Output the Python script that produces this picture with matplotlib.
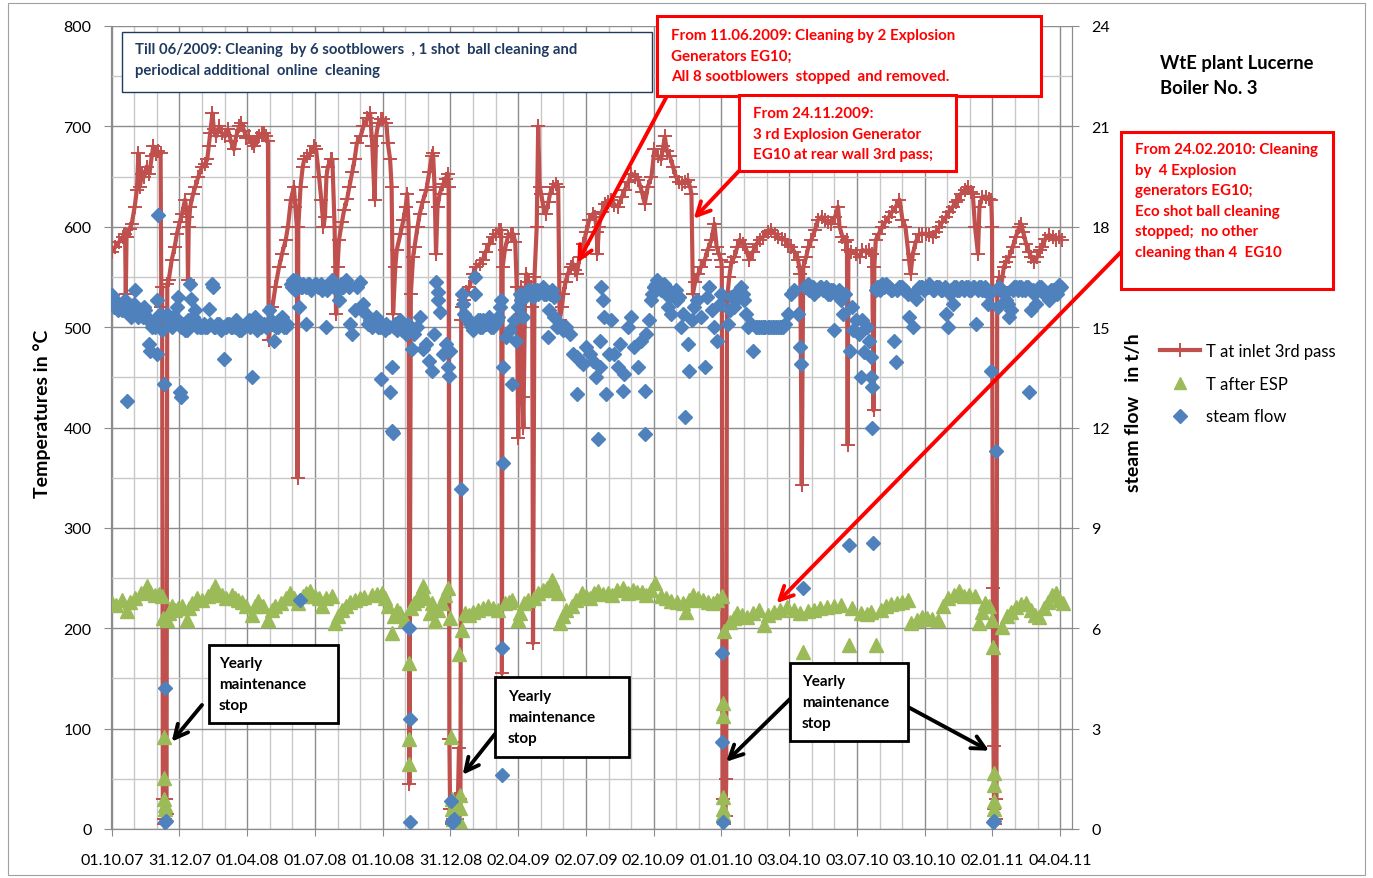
import matplotlib.pyplot as plt
from matplotlib.lines import Line2D
from matplotlib.patches import Rectangle
from matplotlib.ticker import FixedLocator, MultipleLocator
import numpy as np

W, H = 1373, 879

# x positions are days counted from 01.10.2007
x_tick_labels = ["01.10.07", "31.12.07", "01.04.08", "01.07.08", "01.10.08",
                 "31.12.08", "02.04.09", "02.07.09", "02.10.09", "01.01.10",
                 "03.04.10", "03.07.10", "03.10.10", "02.01.11", "04.04.11"]
x_tick_step = 91.5

# T at inlet 3rd pass (deg C)
inlet_pts = [
    (0, 575), (5, 580), (10, 585), (15, 590), (18, 593), (19, 533), (20, 590),
    (24, 598), (27, 603), (31, 620), (34, 637), (36, 673), (38, 640), (41, 653),
    (44, 650), (47, 660), (51, 653), (54, 670), (56, 680), (60, 672), (63, 675),
    (66, 673), (67, 520), (68, 540), (69, 30), (70, 10), (71, 5), (72, 10),
    (73, 30), (74, 15), (75, 543), (77, 547), (81, 567), (85, 580), (88, 593),
    (92, 605), (95, 613), (99, 627), (102, 610), (103, 547), (104, 600),
    (106, 620), (110, 633), (113, 640), (117, 650), (122, 660), (126, 663),
    (129, 667), (131, 680), (133, 693), (136, 713), (138, 697), (141, 690),
    (145, 700), (149, 693), (153, 690), (157, 697), (161, 685), (165, 677),
    (168, 690), (172, 700), (175, 703), (179, 695), (182, 688), (185, 690),
    (189, 683), (192, 680), (196, 688), (199, 690), (203, 693), (206, 693),
    (209, 690), (211, 685), (212, 487), (214, 500), (217, 520), (221, 540),
    (226, 560), (230, 573), (235, 587), (238, 600), (242, 627), (246, 640),
    (248, 620), (250, 600), (251, 350), (252, 600), (255, 640), (258, 660),
    (260, 667), (264, 670), (268, 673), (273, 680), (276, 677), (280, 650),
    (283, 627), (286, 600), (288, 610), (290, 650), (292, 660), (296, 667),
    (298, 667), (301, 600), (303, 513), (305, 560), (307, 587), (311, 605),
    (314, 617), (318, 628), (321, 640), (325, 655), (328, 667), (331, 683),
    (336, 690), (340, 700), (345, 708), (349, 713), (352, 680), (355, 627),
    (357, 690), (360, 703), (364, 707), (367, 707), (371, 703), (373, 683),
    (376, 667), (378, 640), (380, 513), (383, 560), (385, 577), (390, 593),
    (394, 607), (397, 620), (399, 633), (401, 600), (402, 45), (404, 533),
    (407, 570), (409, 580), (413, 600), (416, 613), (420, 625), (425, 637),
    (429, 655), (432, 670), (434, 673), (436, 640), (438, 573), (440, 620),
    (443, 633), (448, 643), (451, 648), (454, 653), (455, 640), (456, 90),
    (457, 20), (459, 5), (461, 10), (463, 30), (465, 15), (467, 10), (469, 81),
    (470, 30), (471, 14), (472, 507), (473, 520), (476, 527), (479, 535),
    (483, 540), (488, 553), (492, 560), (497, 563), (501, 567), (505, 575),
    (510, 583), (515, 590), (519, 593), (523, 597), (526, 597), (527, 155),
    (528, 560), (531, 577), (535, 590), (539, 593), (542, 593), (545, 585),
    (547, 540), (549, 390), (551, 500), (553, 540), (555, 430), (556, 400),
    (558, 520), (560, 553), (563, 545), (566, 540), (568, 520), (569, 185),
    (571, 550), (574, 600), (576, 700), (578, 640), (580, 633), (583, 620),
    (586, 613), (590, 625), (592, 633), (596, 640), (600, 643), (603, 640),
    (605, 507), (608, 520), (610, 533), (613, 545), (616, 553), (620, 560),
    (623, 563), (626, 557), (628, 553), (632, 570), (637, 583), (641, 595),
    (645, 607), (650, 613), (653, 610), (655, 595), (656, 573), (658, 600),
    (662, 615), (666, 623), (670, 625), (675, 627), (679, 622), (684, 620),
    (689, 630), (693, 637), (698, 645), (702, 653), (707, 650), (711, 647),
    (716, 635), (720, 623), (724, 640), (729, 650), (733, 677), (738, 670),
    (742, 667), (745, 680), (747, 690), (750, 675), (754, 670), (758, 660),
    (762, 650), (766, 645), (770, 643), (774, 645), (778, 647), (781, 640),
    (783, 633), (785, 533), (788, 545), (792, 553), (796, 560), (801, 567),
    (805, 577), (810, 587), (814, 603), (817, 580), (820, 573), (823, 567),
    (824, 560), (825, 30), (827, 5), (829, 13), (830, 50), (831, 527),
    (834, 550), (837, 565), (841, 570), (845, 580), (848, 587), (852, 583),
    (856, 580), (861, 567), (866, 575), (871, 583), (875, 587), (880, 590),
    (886, 595), (891, 597), (896, 593), (900, 590), (905, 588), (909, 587),
    (914, 582), (918, 580), (922, 575), (927, 567), (930, 553), (932, 343),
    (934, 560), (938, 570), (941, 580), (945, 587), (950, 597), (954, 607),
    (959, 610), (963, 607), (968, 605), (972, 603), (977, 610), (981, 620),
    (983, 600), (987, 590), (990, 585), (993, 587), (994, 383), (995, 577),
    (999, 575), (1005, 573), (1010, 570), (1014, 577), (1019, 575),
    (1023, 577), (1027, 573), (1029, 417), (1030, 560), (1032, 587),
    (1036, 593), (1041, 600), (1045, 605), (1050, 610), (1054, 615),
    (1059, 620), (1064, 627), (1068, 607), (1072, 600), (1077, 567),
    (1079, 553), (1082, 573), (1086, 585), (1091, 593), (1095, 593),
    (1100, 593), (1104, 592), (1109, 590), (1113, 595), (1118, 600),
    (1122, 605), (1127, 610), (1131, 615), (1136, 620), (1140, 625),
    (1143, 627), (1147, 633), (1152, 637), (1156, 640), (1160, 635),
    (1163, 633), (1166, 600), (1170, 573), (1172, 620), (1176, 630),
    (1181, 630), (1185, 628), (1188, 627), (1189, 600), (1190, 240),
    (1191, 83), (1192, 20), (1193, 5), (1194, 10), (1195, 30), (1196, 540),
    (1199, 550), (1201, 540), (1205, 560), (1208, 565), (1212, 570),
    (1217, 580), (1221, 590), (1226, 600), (1228, 603), (1231, 595),
    (1235, 583), (1239, 575), (1242, 570), (1246, 565), (1250, 570),
    (1254, 577), (1257, 580), (1261, 588), (1266, 592), (1271, 590),
    (1275, 587), (1280, 590), (1283, 587),
]

# T after ESP (deg C)
esp_pts = [
    (0, 225), (6, 223), (13.5, 228), (20, 217), (25, 226), (31.5, 230), (40, 235),
    (47, 242), (52, 236), (58.5, 233), (64, 234), (67.5, 232), (69, 210),
    (70, 92), (70.5, 51), (71, 30), (71.5, 24), (72, 20), (74, 208), (77, 215),
    (81, 222), (86, 218), (90, 220), (95, 222), (101, 208), (104, 220),
    (108, 225), (115, 230), (122, 228), (130, 232), (135, 236), (139.5, 242),
    (144, 235), (148.5, 233), (155, 230), (162, 233), (167, 230), (171, 228),
    (176, 226), (182, 222), (189, 213), (193, 222), (198, 227), (204, 222),
    (211.5, 208), (216, 218), (220.5, 222), (228, 225), (235, 230), (241, 235),
    (246, 230), (252, 225), (258, 232), (263, 235), (268, 237), (274, 232),
    (280, 230), (283.5, 222), (290, 230), (297, 232), (301.5, 205), (305, 212),
    (310.5, 218), (316, 222), (322, 226), (328.5, 228), (335, 230), (341, 231),
    (351, 233), (358, 234), (364.5, 235), (369, 230), (373.5, 222), (378, 195),
    (381, 212), (384.75, 218), (390, 215), (396, 208), (402, 165), (402, 90),
    (402, 65), (404, 220), (408, 225), (412, 228), (417, 235), (421, 242),
    (425, 230), (430, 215), (433, 225), (436.5, 207), (441, 218), (445.5, 225),
    (450, 233), (454.5, 240), (457, 210), (458, 92), (459, 30), (460, 20),
    (461, 10), (462, 25), (469, 174), (470, 34), (471, 21), (471.5, 5),
    (473, 198), (477, 215), (483, 213), (488, 216), (495, 218), (501, 220),
    (508.5, 222), (515, 220), (522, 218), (531, 225), (536, 226), (540, 228),
    (549, 208), (552, 215), (557, 225), (562.5, 228), (570, 230), (576, 235),
    (582, 238), (588, 240), (594, 248), (598, 238), (603, 235), (605, 205),
    (609, 212), (614, 218), (621, 222), (627, 228), (634.5, 235), (640, 232),
    (646, 230), (652, 235), (657, 237), (663, 234), (670, 235), (676, 233),
    (683, 238), (690, 240), (697, 235), (704, 238), (710, 236), (716, 236),
    (722, 233), (728, 238), (734, 245), (742, 232), (749, 230), (756, 227),
    (763, 226), (771.5, 225), (776, 216), (780, 228), (785, 233), (792, 230),
    (799, 228), (806, 226), (812, 225), (818, 228), (824, 232), (825, 126),
    (825.5, 113), (826, 32), (826, 20), (826, 15), (827, 197), (835, 206),
    (840, 210), (844, 215), (851, 213), (858, 211), (866, 215), (874, 218),
    (880.5, 203), (887, 213), (894, 216), (903, 218), (912, 221), (921, 218),
    (930, 215), (934, 176), (940, 217), (948.6, 218), (957, 220), (966, 221),
    (975, 222), (985, 223), (996, 183), (1000, 220), (1012, 215), (1020, 214),
    (1026, 216), (1032.6, 183), (1039, 218), (1046, 222), (1053, 224),
    (1060, 225), (1068, 226), (1076, 228), (1080, 205), (1087, 208),
    (1094, 211), (1101, 210), (1108, 209), (1116.6, 208), (1123, 222),
    (1130, 230), (1137, 233), (1144, 237), (1151, 232), (1158, 233),
    (1166.5, 232), (1171, 205), (1175, 216), (1180, 225), (1185, 222),
    (1189, 208), (1190, 181.5), (1191, 56), (1191.5, 44), (1192, 28),
    (1192, 20), (1203, 201), (1209, 212), (1215, 216), (1221, 221),
    (1228, 224), (1234.6, 225), (1241, 218), (1247, 213), (1253, 211),
    (1259, 220), (1265, 226), (1270, 233), (1275, 235), (1280, 228),
    (1284.6, 225),
]

# steam flow (t/h): scattered readings
steam_pts = [
    (0, 15.96), (2, 15.8), (4.5, 15.7), (8, 15.6), (11, 15.6), (14, 15.5),
    (18, 15.8), (21, 12.8), (25, 15.4), (28, 15.6), (31.6, 16.1), (36, 15.3),
    (40, 15.4), (43, 15.6), (47, 15.3), (50, 14.5), (52, 14.3), (54, 15.0),
    (58, 15.2), (61, 14.2), (61.5, 15.8), (63, 18.35), (65.5, 15.4), (68, 14.9),
    (70, 13.3), (72, 4.2), (72.5, 0.2), (73, 0.25), (74.6, 15.4), (78, 15.2),
    (81, 15.0), (85, 15.3), (88, 15.6), (90, 15.9), (92.7, 13.05), (93.5, 12.9),
    (96, 15.1), (99.4, 14.9), (103, 15.2), (106, 16.3), (107, 15.85), (110, 15.3),
    (113, 15.5), (117, 15.1), (122, 15.0), (126, 15.0), (131, 15.55),
    (135.6, 16.3), (136.5, 16.2), (140, 15.0), (145, 15.1), (151, 14.05),
    (153.7, 15.0), (158, 15.1), (163, 15.0), (168, 15.2), (172, 14.9),
    (176, 15.0), (181, 15.1), (185, 15.2), (190, 13.5), (194, 15.3), (199, 15.0),
    (203, 15.1), (208, 15.0), (212, 15.5), (215, 15.2), (219, 14.6), (222, 15.0),
    (226, 15.2), (230, 15.3), (233, 15.0), (237, 15.1), (242, 16.3), (245, 16.4),
    (249, 16.4), (253, 15.6), (254, 6.85), (257, 16.2), (262, 15.1), (265, 16.3),
    (267, 16.3), (272, 16.2), (276, 16.3), (280, 16.2), (284, 16.1), (289, 15.0),
    (293, 16.2), (298, 16.4), (302, 16.3), (307, 15.8), (311, 16.2), (316, 16.4),
    (320, 16.2), (322, 15.1), (325, 14.8), (328, 15.5), (331, 16.2),
    (335, 16.35), (338, 15.5), (340, 15.7), (344, 15.4), (349, 15.2),
    (353, 15.1), (357, 15.3), (362, 15.0), (364, 13.45), (367, 15.0),
    (371, 15.1), (376, 13.05), (378, 13.8), (379, 11.9), (379.5, 11.85),
    (381, 15.0), (385, 14.9), (389, 15.2), (394, 15.1), (398, 14.8), (402, 6.0),
    (402.5, 3.3), (403, 0.2), (405, 14.35), (408, 14.8), (412, 15.0),
    (416, 15.3), (421, 14.35), (425, 14.5), (429, 14.0), (432, 13.7),
    (435, 14.8), (438.6, 16.35), (440, 16.05), (441, 15.8), (443, 15.45),
    (448, 14.2), (451, 14.5), (454, 13.8), (455, 13.55), (456.6, 14.3),
    (458, 0.83), (459, 0.2), (460, 0.25), (461, 0.2), (462, 0.3), (472, 10.15),
    (472.5, 16.0), (474, 15.7), (479, 15.3), (484, 15.1), (488, 14.9),
    (490, 16.5), (491, 16.0), (495, 15.2), (498, 15.0), (502, 15.2), (506, 15.1),
    (510, 15.3), (515, 15.0), (520, 15.2), (524, 15.6), (526, 15.8), (527, 5.4),
    (527.5, 1.6), (528, 10.95), (529, 13.8), (533, 14.7), (538, 14.9),
    (540, 13.3), (543, 15.2), (546, 14.6), (549, 15.6), (551, 16.0), (556, 15.3),
    (558, 15.9), (560, 16.0), (564, 16.1), (569, 15.9), (574, 16.1), (578, 16.1),
    (582, 16.2), (587, 16.0), (589, 14.7), (590, 15.5), (592, 16.0), (597, 15.3),
    (601, 15.0), (605, 15.1), (610, 14.9), (614, 15.0), (619, 14.8), (623, 14.2),
    (628, 13.0), (628.5, 14.1), (633, 14.0), (637, 13.9), (641, 14.4),
    (646, 14.2), (650, 14.0), (654, 13.5), (657, 11.65), (659, 14.6),
    (660, 13.8), (661, 16.2), (663, 15.8), (665, 15.3), (668, 13.0), (671, 14.2),
    (675, 15.2), (679, 14.2), (684, 13.8), (687, 14.5), (690, 13.1), (692, 13.6),
    (697, 15.0), (702, 15.3), (706, 14.4), (711, 13.8), (715, 14.6), (720, 13.1),
    (720.5, 11.8), (722, 14.8), (726, 15.2), (730, 16.0), (733, 16.2),
    (737, 16.4), (742, 16.1), (746, 16.3), (751, 15.6), (755, 15.4), (760, 16.0),
    (764, 15.8), (769, 15.0), (772, 15.4), (774, 12.3), (778, 14.5), (780, 13.7),
    (784, 15.2), (787, 15.6), (791, 15.8), (796, 15.3), (801, 13.8), (804, 15.9),
    (807, 16.2), (811, 15.5), (814, 15.0), (818, 14.6), (821, 15.7), (823, 16.0),
    (824, 5.25), (824.5, 2.6), (825, 0.2), (832, 15.1), (835, 15.5), (837, 15.9),
    (841, 15.6), (845, 15.9), (850, 16.2), (854, 15.8), (859, 15.0), (863, 15.1),
    (866, 14.3), (870, 15.0), (874, 15.0), (877, 15.0), (881, 15.0), (886, 15.0),
    (891, 15.0), (895, 15.0), (900, 15.0), (904, 15.0), (909, 15.1), (913, 15.4),
    (918, 16.0), (922, 16.1), (927, 15.4), (929, 14.4), (931, 13.9), (934, 7.2),
    (936, 16.2), (940, 16.3), (945, 16.2), (949, 16.0), (954, 16.1), (958, 16.2),
    (963, 16.1), (967, 16.0), (972, 16.1), (976, 14.9), (980, 16.0), (985, 15.8),
    (988, 15.4), (991, 16.0), (996, 8.5), (997, 14.3), (1000, 15.6),
    (1001, 14.9), (1005, 15.2), (1009, 14.8), (1012, 13.5), (1014, 15.2),
    (1016, 14.25), (1020, 15.0), (1023, 14.6), (1025, 14.1), (1026, 13.5),
    (1027, 12.0), (1027.5, 13.2), (1028, 8.55), (1032, 16.1), (1036, 16.2),
    (1041, 16.3), (1046, 16.3), (1050, 16.2), (1054, 16.1), (1057, 14.6),
    (1059, 13.95), (1063, 16.2), (1068, 16.2), (1072, 16.1), (1077, 15.3),
    (1082, 15.0), (1086, 15.85), (1091, 16.2), (1095, 16.2), (1100, 16.2),
    (1104, 16.3), (1109, 16.1), (1113, 16.2), (1118, 16.2), (1122, 16.1),
    (1127, 15.4), (1129, 15.0), (1132, 16.0), (1136, 15.7), (1140, 16.2),
    (1145, 16.1), (1149, 16.2), (1154, 16.2), (1158, 16.1), (1163, 16.2),
    (1167, 15.1), (1172, 16.2), (1176, 16.1), (1180, 16.2), (1183, 15.7),
    (1185, 16.0), (1188, 13.7), (1190, 0.2), (1191, 0.25), (1194.5, 11.3),
    (1197, 15.6), (1199, 16.2), (1203, 16.1), (1208, 15.8), (1212, 15.3),
    (1214, 15.5), (1217, 16.1), (1221, 16.2), (1226, 16.2), (1230, 16.1),
    (1235, 16.2), (1239.5, 13.05), (1242, 15.5), (1245, 16.0), (1248, 15.7),
    (1253, 16.2), (1257, 16.1), (1262, 16.0), (1266, 15.8), (1271, 16.1),
    (1275, 16.1), (1280, 16.25),
]

# steam flow (t/h): readings inside the dense band
steam_band_pts = [
    (1, 15.9), (3, 15.6), (6, 15.75), (9, 15.5), (12, 15.7), (16, 15.5),
    (20, 15.6), (23, 15.5), (26, 15.3), (30, 15.7), (33, 15.4), (38, 15.5),
    (42, 15.3), (45, 15.5), (49, 15.2), (56, 15.1), (59, 15.0), (76, 15.2),
    (80, 15.1), (83, 15.3), (87, 15.2), (94, 15.0), (98, 15.1), (101, 14.9),
    (105, 15.0), (109, 15.1), (112, 15.2), (115, 15.0), (119, 15.0),
    (124, 15.1), (128, 15.0), (133, 15.1), (138, 15.0), (142, 15.1),
    (147, 14.9), (149, 15.0), (156, 15.1), (161, 15.0), (166, 15.0),
    (170, 15.1), (174, 14.9), (178, 15.0), (183, 15.1), (187, 15.0),
    (192, 15.1), (196, 14.9), (201, 15.0), (206, 15.1), (210, 15.0),
    (217, 15.1), (224, 15.0), (228, 15.1), (235, 15.0), (243, 16.2),
    (247, 16.1), (251, 16.3), (255, 16.2), (259, 16.3), (263, 16.2),
    (269, 16.1), (274, 16.3), (278, 16.2), (282, 16.3), (286, 16.2),
    (291, 16.1), (295, 16.3), (300, 16.2), (304, 16.1), (309, 16.3),
    (313, 16.2), (318, 16.3), (346, 15.1), (351, 15.0), (355, 15.2),
    (360, 15.0), (365, 15.1), (369, 14.9), (374, 15.0), (383, 15.1),
    (387, 15.0), (392, 14.9), (396, 15.0), (400, 15.1), (476, 15.4),
    (481, 15.2), (486, 15.0), (493, 15.1), (497, 15.2), (500, 15.0),
    (504, 15.1), (508, 15.2), (512, 15.0), (517, 15.1), (522, 15.3),
    (553, 15.8), (562, 16.1), (566, 16.0), (571, 16.1), (576, 16.0),
    (580, 16.1), (584, 16.0), (594, 16.1), (598, 15.9), (728, 15.8),
    (732, 16.2), (735, 16.3), (739, 16.2), (744, 16.1), (748, 16.2),
    (753, 15.9), (757, 16.0), (762, 16.1), (766, 15.9), (843, 15.8),
    (847, 16.1), (852, 16.0), (857, 15.4), (872, 15.0), (879, 15.0),
    (883, 15.0), (888, 15.0), (893, 15.0), (897, 15.0), (902, 15.0),
    (906, 15.0), (938, 16.2), (942, 16.1), (947, 16.2), (951, 16.1),
    (956, 16.2), (961, 16.1), (965, 16.2), (970, 16.0), (974, 16.1),
    (978, 16.0), (982, 16.1), (1034, 16.2), (1038, 16.1), (1043, 16.2),
    (1048, 16.2), (1052, 16.1), (1061, 16.1), (1065, 16.2), (1070, 16.1),
    (1075, 16.0), (1088, 16.1), (1093, 16.2), (1097, 16.1), (1102, 16.2),
    (1106, 16.2), (1111, 16.1), (1115, 16.2), (1120, 16.1), (1125, 16.2),
    (1134, 16.1), (1138, 16.2), (1142, 16.1), (1147, 16.2), (1151, 16.1),
    (1156, 16.2), (1161, 16.1), (1165, 16.2), (1170, 16.1), (1174, 16.2),
    (1178, 16.1), (1182, 16.1), (1201, 16.1), (1205, 16.0), (1210, 15.7),
    (1219, 16.2), (1224, 16.1), (1228, 16.2), (1233, 16.1), (1237, 16.2),
    (1244, 16.1), (1250, 16.1), (1255, 16.2), (1259, 16.0), (1264, 16.0),
    (1268, 16.1), (1273, 16.1), (1277, 16.0), (1282, 16.2),
]

RED, GREEN, BLUE = "#C0504D", "#9BBB59", "#4F81BD"
GRID_MAJ, GRID_MIN = "#8C8C8C", "#C8C8C8"
NAVY = "#1F3A60"


def px(x, y):
    """Pixel position (from top-left) to figure fraction."""
    return x / W, 1 - y / H


def add_box(fig, x0, y0, x1, y1, color, lw):
    fig.patches.append(Rectangle(px(x0, y1), (x1 - x0) / W, (y1 - y0) / H,
                                 transform=fig.transFigure, facecolor="white",
                                 edgecolor=color, lw=lw, zorder=5))


def add_lines(fig, x, y0, step, lines, **kw):
    for i, s in enumerate(lines):
        fig.text(*px(x, y0 + i * step), s, va="center", ha="left", zorder=6, **kw)


def main():
    plt.rcParams["font.family"] = ["Lato", "DejaVu Sans"]
    fig = plt.figure(figsize=(W / 100, H / 100), dpi=100)

    # outer chart border
    fig.patches.append(Rectangle(px(8, 876), 1357 / W, 872 / H, transform=fig.transFigure,
                                 fill=False, edgecolor="#A0A0A0", lw=0.8, zorder=-1))

    ax = fig.add_axes([111 / W, 1 - 830 / H, (1072 - 111) / W, 803 / H])
    ax2 = ax.twinx()

    d_in, t_in = zip(*inlet_pts)
    d_esp, t_esp = zip(*esp_pts)
    d_st, f_st = zip(*(steam_pts + steam_band_pts))

    ax.plot(d_in, t_in, color=RED, lw=3.0, marker="+", ms=10, mew=1.4,
            label="T at inlet 3rd pass", zorder=3)
    ax.plot(d_esp, t_esp, ls="none", marker="^", ms=10, color=GREEN,
            label="T after ESP", zorder=4)
    ax2.plot(d_st, f_st, ls="none", marker="D", ms=7.5, color=BLUE,
             mec=BLUE, label="steam flow", zorder=4)

    ax.set_xlim(-1, 1297)
    ax.set_ylim(0, 800)
    ax2.set_ylim(0, 24)

    ticks = np.arange(len(x_tick_labels)) * x_tick_step
    ax.xaxis.set_major_locator(FixedLocator(ticks))
    ax.set_xticklabels(x_tick_labels)
    ax.xaxis.set_minor_locator(MultipleLocator(x_tick_step / 3))
    ax.yaxis.set_major_locator(MultipleLocator(100))
    ax.yaxis.set_minor_locator(MultipleLocator(50))
    ax2.yaxis.set_major_locator(MultipleLocator(3))

    ax.grid(which="major", color=GRID_MAJ, lw=1.0)
    ax.grid(which="minor", color=GRID_MIN, lw=1.0)
    ax.set_axisbelow(True)

    ax.tick_params(which="major", direction="out", length=5, color=GRID_MAJ,
                   labelsize=11.5, pad=9)
    ax.tick_params(which="minor", length=0)
    ax.tick_params(axis="x", pad=12)
    ax2.tick_params(direction="out", length=5, color=GRID_MAJ, labelsize=11.5, pad=9)
    for a in (ax, ax2):
        for sp in a.spines.values():
            sp.set_color(GRID_MAJ)
    ax.spines["top"].set_visible(False)
    ax2.spines["top"].set_visible(False)

    fig.text(*px(42, 414), "Temperatures in °C", rotation=90, ha="center",
             va="center", fontsize=14, fontweight="bold")
    fig.text(*px(1133, 413), "steam flow   in t/h", rotation=90, ha="center",
             va="center", fontsize=14, fontweight="bold")

    # legend
    handles = [Line2D([], [], color=RED, lw=3.0, marker="+", ms=10, mew=1.4),
               Line2D([], [], ls="none", marker="^", ms=9, color=GREEN),
               Line2D([], [], ls="none", marker="D", ms=7, color=BLUE)]
    labels = ["T at inlet 3rd pass", "T after ESP", "steam flow"]
    fig.legend(handles, labels, loc="upper left", bbox_to_anchor=px(1145, 329),
               frameon=False, fontsize=12, handlelength=2.4, labelspacing=1.0,
               handletextpad=0.35)

    # title block
    fig.text(*px(1160, 64), "WtE plant Lucerne", fontsize=13.2, fontweight="bold",
             va="center")
    fig.text(*px(1160, 89), "Boiler No. 3", fontsize=13.2, fontweight="bold",
             va="center")

    # text boxes
    add_box(fig, 122, 33, 652, 93, NAVY, 1.0)
    add_lines(fig, 135, 50, 21,
              ["Till 06/2009: Cleaning  by 6 sootblowers  , 1 shot  ball cleaning and",
               "periodical additional  online  cleaning"],
              color=NAVY, fontsize=10.75, fontweight="bold")

    add_box(fig, 657, 17, 1041, 97, "red", 2.2)
    add_lines(fig, 671, 36, 20.5,
              ["From 11.06.2009: Cleaning by 2 Explosion", "Generators EG10;",
               "All 8 sootblowers  stopped  and removed."],
              color="red", fontsize=10.9, fontweight="bold")

    add_box(fig, 739, 96, 956, 172, "red", 2.2)
    add_lines(fig, 753, 114, 20.5,
              ["From 24.11.2009:", "3 rd Explosion Generator",
               "EG10 at rear wall 3rd pass;"],
              color="red", fontsize=10.9, fontweight="bold")

    add_box(fig, 1121, 133, 1333, 290, "red", 2.2)
    add_lines(fig, 1135, 150, 20.6,
              ["From 24.02.2010: Cleaning", "by  4 Explosion", "generators EG10;",
               "Eco shot ball cleaning", "stopped;  no other",
               "cleaning than 4  EG10"],
              color="red", fontsize=10.9, fontweight="bold")

    stop_txt = ["Yearly", "maintenance", "stop"]
    add_box(fig, 209, 646, 338, 724, "black", 2.0)
    add_lines(fig, 219, 664, 21, stop_txt, color="black", fontsize=11, fontweight="bold")
    add_box(fig, 495, 678, 629, 758, "black", 2.0)
    add_lines(fig, 508, 697, 21, stop_txt, color="black", fontsize=11, fontweight="bold")
    add_box(fig, 790, 664, 908, 742, "black", 2.0)
    add_lines(fig, 802, 682, 21, stop_txt, color="black", fontsize=11, fontweight="bold")

    # arrows: tip in data coords, tail at box edge (figure pixels)
    arrows = [
        ((629, 564), (667, 97), "red"),
        ((786, 608), (739, 172), "red"),
        ((898, 225), (1121, 253), "red"),
        ((81, 87), (202, 706), "black"),
        ((474, 54), (495, 735), "black"),
        ((830, 67), (790, 700), "black"),
        ((1185, 78), (908, 708), "black"),
    ]
    for tip, tail, col in arrows:
        ax2.annotate("", xy=tip, xycoords=ax.transData, xytext=px(*tail),
                     textcoords="figure fraction", annotation_clip=False,
                     arrowprops=dict(arrowstyle="->", lw=2.8, color=col,
                                     mutation_scale=24, shrinkA=0, shrinkB=0))

    fig.savefig("out.png", dpi=100)


if __name__ == "__main__":
    main()
